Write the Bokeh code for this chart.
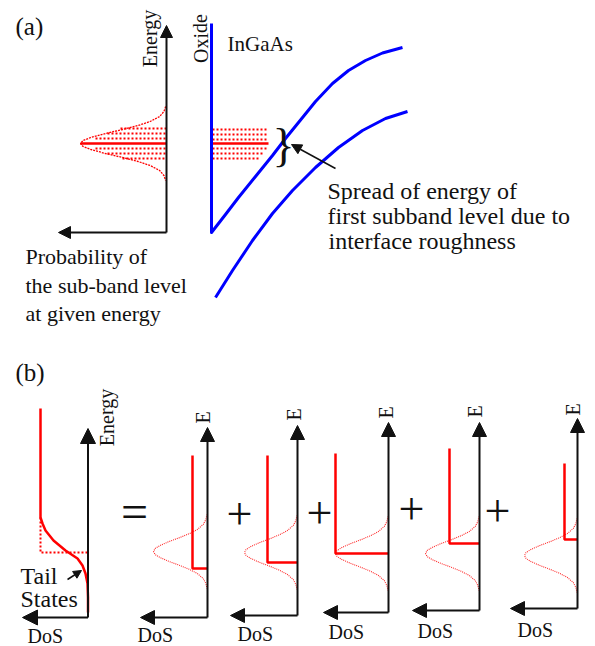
from bokeh.plotting import figure
from bokeh.models import Range1d, Arrow, NormalHead, ColumnDataSource
from bokeh.core.properties import value
from bokeh.embed import file_html
from bokeh.resources import INLINE

W, H = 595, 646
SERIF = "Liberation Serif"
RED = "#ff0000"
BLUE = "#0000ff"
BLACK = "#111111"

# ---------------- panel (a) ----------------
a_axis_x = 166
a_axis_bottom = 232
a_axis_top = 25
a_prob_tip = 58
a_level_y = 143
a_gauss_amp = 86

# bell-shaped profile: offset (px) and relative weight
prof_dy = [-37, -32, -27, -22, -18, -14, -10, -6, -3, 0, 3, 6, 10, 14, 18, 22, 27, 32, 37]
prof_w = [0.01, 0.03, 0.08, 0.19, 0.33, 0.51, 0.71, 0.88, 0.97, 1.0,
          0.97, 0.88, 0.71, 0.51, 0.33, 0.19, 0.08, 0.03, 0.01]

a_rows_y = [128, 133, 138, 148, 153, 158]
a_rows_x0 = [120, 107, 95, 95, 107, 122]

r_rows_y = [129, 134, 139, 148, 153, 158]
r_rows_x0 = [212, 212, 212, 212, 212, 212]
r_rows_x1 = [268, 268, 268, 266, 263, 260]
r_level_x = [211, 268]

oxide_x = [211, 211]
oxide_y = [23, 232]
band1_x = [211, 225, 238, 255, 272, 285, 298, 315, 332, 348, 365, 382, 402]
band1_y = [232, 214, 197, 176, 155, 138, 122, 101, 83, 70, 60, 52.5, 47]
band2_x = [215, 232, 252, 272, 292, 315, 338, 362, 385, 407]
band2_y = [297, 270, 240, 213, 190, 167, 147, 130, 118, 111]

# ---------------- panel (b) ----------------
b_axis_x = 87.5
b_axis_top = 428
b_axis_bottom = 617
b_dos_tip = 22
tail_x = [40, 40, 42, 45, 53, 65, 77, 82, 85, 87, 87.5, 87.5]
tail_y = [408, 517, 523, 530, 540, 550, 558, 565, 573, 583, 597, 612]
tail_dot_x = [40, 40, 87]
tail_dot_y = [517, 552, 552]

comp_axis_x = [207, 297, 388, 479, 577]
comp_axis_top = [427, 425, 422, 422, 418]
comp_axis_bottom = [617, 615, 612, 610, 608]
comp_dos_tip = [140, 230, 323, 412, 510]
comp_gauss_center = [551, 552, 553, 553, 555]
comp_gauss_amp = [54, 53, 53, 54, 53]
comp_step_x = [192, 267, 335, 449, 564]
comp_step_top = [455, 455, 453, 448, 463]
comp_step_y = [568, 562, 553, 543, 539]
comp_E_x = [202, 293, 385, 474, 572]
comp_E_y = [417, 414, 412, 411, 409]
dos_x = [27, 137, 237, 328, 417, 517]
dos_y = [635, 634, 633, 631, 630, 629]
plus_x = [239, 319, 411, 497]
plus_y = [513, 512, 508, 510]

p = figure(width=W, height=H, x_range=Range1d(0, W), y_range=Range1d(H, 0),
           output_backend="svg", toolbar_location=None,
           x_axis_location=None, y_axis_location=None,
           min_border=0, min_border_left=0, min_border_right=0,
           min_border_top=0, min_border_bottom=0)
p.grid.visible = False
p.outline_line_color = None
p.background_fill_color = "white"
p.border_fill_color = "white"


def arrows(x0, y0, x1, y1, size, lw):
    src = ColumnDataSource(dict(x0=x0, y0=y0, x1=x1, y1=y1))
    p.add_layout(Arrow(end=NormalHead(size=size, fill_color=BLACK, line_color=BLACK, line_width=1),
                       x_start="x0", y_start="y0", x_end="x1", y_end="y1",
                       source=src, line_color=BLACK, line_width=lw))


def txt(xs, ys, texts, size, align="left", baseline="alphabetic", angle=0.0, font=SERIF):
    p.text(x=xs, y=ys, text=texts, text_font=value(font), text_font_size=value(size),
           text_color=BLACK, text_align=align, text_baseline=baseline, angle=angle)


# ---- panel (a) drawing ----
p.line([a_axis_x - a_gauss_amp * w for w in prof_w], [a_level_y + d for d in prof_dy],
       line_color=RED, line_width=1.3, line_dash="2 1")
p.multi_line([[x0, a_axis_x] for x0 in a_rows_x0], [[y, y] for y in a_rows_y],
             line_color=RED, line_width=2, line_dash="2 2")
p.line([a_axis_x - a_gauss_amp, a_axis_x], [a_level_y, a_level_y], line_color=RED, line_width=2.5)

p.multi_line([[x0, x1] for x0, x1 in zip(r_rows_x0, r_rows_x1)], [[y, y] for y in r_rows_y],
             line_color=RED, line_width=2, line_dash="2 2")
p.line(r_level_x, [a_level_y, a_level_y], line_color=RED, line_width=2.5)

p.line(oxide_x + band1_x, oxide_y + band1_y, line_color=BLUE, line_width=3, line_join="round")
p.line(band2_x, band2_y, line_color=BLUE, line_width=3, line_join="round")

arrows([a_axis_x, a_axis_x], [a_axis_bottom, a_axis_bottom], [a_axis_x, a_prob_tip],
       [a_axis_top, a_axis_bottom], 12, 2)
arrows([335], [168], [291], [144], 10, 1.5)

txt([15], [26], ["(a)"], "25px")
txt([149, 200], [38, 38], ["Energy", "Oxide"], "20px", align="center", baseline="middle", angle=1.5708)
txt([227], [43], ["InGaAs"], "21px")
txt([25, 25, 25], [256, 285, 313], ["Probability of", "the sub-band level", "at given energy"], "22px")
txt([327, 327, 328], [190, 215, 240],
    ["Spread of energy of", "first subband level due to", "interface roughness"], "24px")
txt([283], [145], ["}"], "46px", align="center", baseline="middle")

# ---- panel (b) drawing ----
p.line(tail_x, tail_y, line_color=RED, line_width=2.5, line_join="round")
p.line(tail_dot_x, tail_dot_y, line_color=RED, line_width=2, line_dash="2 2")
arrows([b_axis_x, b_axis_x], [b_axis_bottom, b_axis_bottom], [b_axis_x, b_dos_tip],
       [b_axis_top, b_axis_bottom], 15, 2)
arrows([67], [579], [81], [570], 8, 1.5)

p.multi_line([[ax - amp * w for w in prof_w] for ax, amp in zip(comp_axis_x, comp_gauss_amp)],
             [[c + d for d in prof_dy] for c in comp_gauss_center],
             line_color=RED, line_width=1.1, line_dash="1 1", line_alpha=0.85)
p.multi_line([[sx, sx, ax] for sx, ax in zip(comp_step_x, comp_axis_x)],
             [[t, s, s] for t, s in zip(comp_step_top, comp_step_y)],
             line_color=RED, line_width=2.5)
arrows(comp_axis_x + comp_axis_x, comp_axis_bottom + comp_axis_bottom,
       comp_axis_x + comp_dos_tip, comp_axis_top + comp_axis_bottom, 14, 2)

txt([15], [372], ["(b)"], "25px")
txt([106], [417], ["Energy"], "20px", align="center", baseline="middle", angle=1.5708)
txt([20, 20], [575, 598], ["Tail", "States"], "24px")
txt(dos_x, dos_y, ["DoS"] * len(dos_x), "20px")
txt(comp_E_x, comp_E_y, ["E"] * len(comp_E_x), "20px", align="center", baseline="middle", angle=1.5708)
txt([134], [511], ["="], "48px", align="center", baseline="middle")
txt(plus_x, plus_y, ["+"] * len(plus_x), "46px", align="center", baseline="middle")

open("out.html", "w").write(file_html(p, INLINE))
